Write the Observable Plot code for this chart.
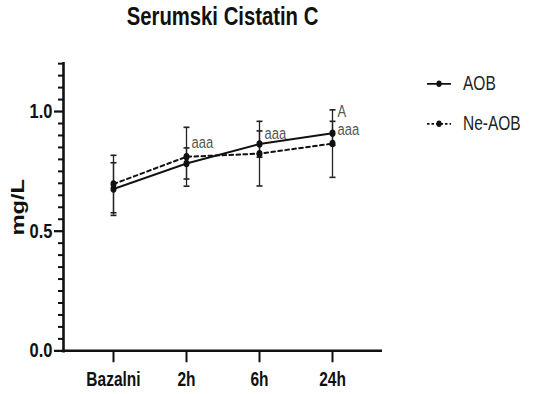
<!DOCTYPE html>
<html>
<head>
<meta charset="utf-8">
<script src="https://cdn.jsdelivr.net/npm/d3@7"></script>
<script src="https://cdn.jsdelivr.net/npm/@observablehq/plot@0.6"></script>
<style>
  html, body { margin: 0; padding: 0; background: #fff; }
  #wrap { width: 538px; height: 394px; overflow: hidden; }
  /* figure is laid out at 538x315 and stretched vertically to 394 */
  #fig { position: relative; width: 538px; height: 315px; transform: scaleY(1.2508); transform-origin: 0 0; }
  #title {
    position: absolute; left: 0; top: 0.5px; width: 445px; text-align: center;
    font-family: "Liberation Sans", Arial, sans-serif;
    font-weight: bold; font-size: 20.3px; line-height: 24px; color: #111;
  }
  #chart { position: absolute; left: 0; top: 32px; }
  #legend {
    position: absolute; left: 426px; top: 55px;
    font-family: "Liberation Sans", Arial, sans-serif;
    font-size: 15.5px; color: #222;
  }
  .row { display: flex; align-items: center; height: 24px; margin-bottom: 8px; }
  .row svg { margin-right: 11px; }
</style>
</head>
<body>
<div id="wrap">
<div id="fig">
  <div id="title">Serumski Cistatin C</div>
  <div id="chart"></div>
  <div id="legend"></div>
</div>
</div>
<script>
// Time points
const categories = ["Bazalni", "2h", "6h", "24h"];

// Series: mean and SD (mg/L)
const seriesNames = ["AOB", "Ne-AOB"];
const aobMean = [0.676, 0.783, 0.864, 0.909];
const aobSD   = [0.110, 0.065, 0.055, 0.050];
const neMean  = [0.697, 0.811, 0.824, 0.866];
const neSD    = [0.120, 0.123, 0.135, 0.141];

// Significance markers
const annotCats   = ["2h", "6h", "24h", "24h"];
const annotLabels = ["aaa", "aaa", "aaa", "A"];
const annotY      = [0.870, 0.906, 0.923, 0.999];

// Y axis ticks
const yMajor = [0, 0.5, 1.0];
const yMinor = d3.range(0, 25).map(i => i * 0.05).filter(v => !yMajor.some(m => Math.abs(m - v) < 1e-9));

const dashes = {"AOB": null, "Ne-AOB": "4,3"};

const rows = [];
categories.forEach((c, i) => {
  rows.push({series: "AOB", cat: c, mean: aobMean[i], sd: aobSD[i]});
  rows.push({series: "Ne-AOB", cat: c, mean: neMean[i], sd: neSD[i]});
});
const annots = annotCats.map((c, i) => ({cat: c, label: annotLabels[i], y: annotY[i]}));

const font = `"Liberation Sans", Arial, sans-serif`;

// horizontal cap for error bars
const capSymbol = {
  draw(context, size) {
    const w = Math.sqrt(size / Math.PI);
    context.moveTo(-w, 0);
    context.lineTo(w, 0);
  }
};

const lineMarks = seriesNames.map(s => Plot.line(rows.filter(d => d.series === s), {
  x: "cat", y: "mean", stroke: "#111", strokeWidth: 1.6,
  strokeDasharray: dashes[s]
}));

const plot = Plot.plot({
  width: 538,
  height: 283,
  marginLeft: 63,
  marginRight: 156,
  marginTop: 18.4,
  marginBottom: 35,
  style: {background: "#fff", overflow: "visible"},
  x: {type: "point", domain: categories, padding: 0.675, label: null},
  y: {domain: [0, 1.2], label: null},
  marks: [
    // minor y ticks
    Plot.axisY({ticks: yMinor, tickSize: 5, tickFormat: () => "", strokeWidth: 1.6, stroke: "#111"}),
    // major y ticks
    Plot.axisY({ticks: yMajor, tickSize: 9, tickPadding: 2, tickFormat: d3.format(".1f"),
      strokeWidth: 1.8, stroke: "#111", fill: "#111",
      fontSize: 16.5, fontWeight: "bold", fontFamily: font}),
    Plot.axisX({tickSize: 9.6, tickPadding: 7.5, strokeWidth: 2, stroke: "#111", fill: "#111",
      fontSize: 15.5, fontWeight: "bold", fontFamily: font}),
    // axis lines
    Plot.frame({anchor: "left", stroke: "#111", strokeWidth: 2.6}),
    Plot.ruleY([0], {stroke: "#111", strokeWidth: 2}),
    // y axis title
    Plot.text(["mg/L"], {frameAnchor: "left", dx: -46, dy: 0, rotate: -90, textAnchor: "middle",
      fontSize: 19, fontWeight: "bold", fontFamily: font, fill: "#111"}),
    // error bars
    Plot.ruleX(rows, {x: "cat", y1: d => d.mean - d.sd, y2: d => d.mean + d.sd, stroke: "#222", strokeWidth: 1.3}),
    Plot.dot(rows, {x: "cat", y: d => d.mean + d.sd, symbol: capSymbol, r: 3, stroke: "#222", strokeWidth: 1.3, fill: "none"}),
    Plot.dot(rows, {x: "cat", y: d => d.mean - d.sd, symbol: capSymbol, r: 3, stroke: "#222", strokeWidth: 1.3, fill: "none"}),
    ...lineMarks,
    Plot.dot(rows, {x: "cat", y: "mean", r: 3, fill: "#111", stroke: "none"}),
    // significance markers
    Plot.text(annots, {x: "cat", y: "y", text: "label", dx: 5, textAnchor: "start",
      fontSize: 13, fontFamily: font, fill: "#555"})
  ]
});
document.getElementById("chart").appendChild(plot);

// Legend
const legend = d3.select("#legend");
seriesNames.forEach(s => {
  const row = legend.append("div").attr("class", "row");
  const sw = row.append("svg").attr("width", 26).attr("height", 14);
  sw.append("line").attr("x1", 1).attr("x2", 25).attr("y1", 7).attr("y2", 7)
    .attr("stroke", "#111").attr("stroke-width", 1.4)
    .attr("stroke-dasharray", dashes[s] ? "2.5,2" : null);
  sw.append("circle").attr("cx", 13).attr("cy", 7).attr("r", 2.6).attr("fill", "#111");
  row.append("span").text(s);
});
</script>
</body>
</html>
